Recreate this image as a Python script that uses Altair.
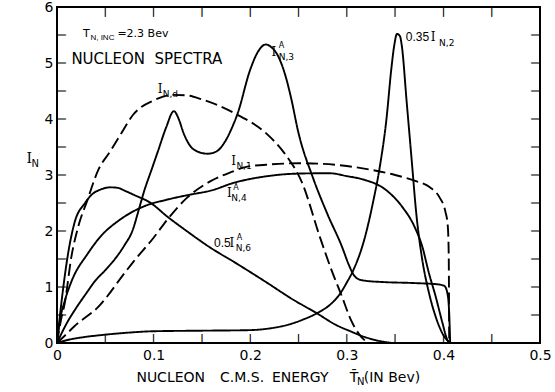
import altair as alt
import pandas as pd

# ---- curve data ----
IND_X = [0, 0.004, 0.008, 0.015, 0.022, 0.031, 0.043, 0.055, 0.065, 0.079, 0.1, 0.12, 0.135, 0.15, 0.183,
         0.218, 0.235, 0.254, 0.272, 0.284, 0.295, 0.304, 0.313, 0.322]
IND_Y = [0, 0.4, 0.71, 1.55, 2.08, 2.53, 3.1, 3.42, 3.7, 4.08, 4.33, 4.43, 4.42, 4.35, 4.11,
         3.72, 3.4, 2.85, 1.9, 1.31, 0.83, 0.42, 0.15, 0]

IN3_X = [0, 0.01, 0.02, 0.03, 0.04, 0.05, 0.06, 0.07, 0.078, 0.085, 0.09, 0.098, 0.105, 0.113, 0.121,
         0.126, 0.131, 0.142, 0.156, 0.165, 0.173, 0.18, 0.187, 0.2, 0.208, 0.216, 0.222, 0.229,
         0.236, 0.242, 0.25, 0.265, 0.28, 0.295, 0.302, 0.307, 0.312, 0.32, 0.336, 0.37, 0.393,
         0.401, 0.404, 0.4058, 0.407]
IN3_Y = [0, 0.35, 0.63, 0.88, 1.12, 1.3, 1.5, 1.75, 2.0, 2.4, 2.7, 3.1, 3.45, 3.85, 4.14,
         4.0, 3.75, 3.45, 3.38, 3.42, 3.57, 3.8, 4.1, 4.88, 5.2, 5.33, 5.28, 5.12,
         4.8, 4.4, 3.75, 2.95, 2.3, 1.72, 1.4, 1.22, 1.14, 1.11, 1.09, 1.07, 1.05,
         1.02, 0.9, 0.6, 0]

IN2_X = [0, 0.01, 0.03, 0.045, 0.07, 0.1, 0.15, 0.2, 0.22, 0.24, 0.255, 0.27, 0.285, 0.293, 0.3,
         0.307, 0.318, 0.327, 0.334, 0.341, 0.346, 0.349, 0.352, 0.355, 0.357, 0.362, 0.367,
         0.372, 0.378, 0.385, 0.392, 0.4, 0.407]
IN2_Y = [0, 0.05, 0.11, 0.14, 0.18, 0.21, 0.22, 0.23, 0.26, 0.33, 0.42, 0.54, 0.72, 0.88, 1.08,
         1.31, 1.84, 2.5, 3.13, 3.99, 4.88, 5.3, 5.52, 5.48, 5.3, 4.3, 3.3,
         2.3, 1.5, 0.9, 0.47, 0.14, 0]

IN4_X = [0, 0.003, 0.008, 0.015, 0.032, 0.045, 0.065, 0.09, 0.114, 0.138, 0.159, 0.183, 0.218,
         0.242, 0.268, 0.283, 0.3, 0.317, 0.34, 0.357, 0.37, 0.378, 0.385, 0.392, 0.399, 0.404, 0.407]
IN4_Y = [0, 0.4, 0.75, 1.1, 1.6, 1.9, 2.2, 2.44, 2.56, 2.65, 2.72, 2.86, 2.98,
         3.02, 3.03, 3.03, 2.98, 2.92, 2.74, 2.44, 2.08, 1.73, 1.25, 0.83, 0.36, 0.06, 0]

IN1_X = [0, 0.008, 0.018, 0.043, 0.07, 0.079, 0.1, 0.114, 0.135, 0.159, 0.18, 0.197, 0.222, 0.25,
         0.274, 0.3, 0.326, 0.35, 0.37, 0.386, 0.396, 0.402, 0.4045, 0.4055, 0.406]
IN1_Y = [0, 0.13, 0.3, 0.65, 1.25, 1.45, 1.88, 2.2, 2.6, 2.89, 3.05, 3.15, 3.19, 3.21,
         3.2, 3.16, 3.09, 3.0, 2.9, 2.78, 2.6, 2.35, 2.1, 1.6, 0]

IN6_X = [0, 0.0045, 0.0115, 0.018, 0.029, 0.036, 0.045, 0.055, 0.063, 0.07, 0.079, 0.097, 0.114,
         0.135, 0.159, 0.183, 0.218, 0.242, 0.27, 0.288, 0.305, 0.318, 0.33, 0.347]
IN6_Y = [0, 0.71, 1.6, 2.14, 2.5, 2.65, 2.74, 2.78, 2.77, 2.72, 2.65, 2.5, 2.26,
         1.99, 1.7, 1.45, 1.07, 0.8, 0.52, 0.33, 0.2, 0.11, 0.05, 0]

SERIES = [("I_N,d", "dashed", IND_X, IND_Y),
          ("I_N,3^A", "solid", IN3_X, IN3_Y),
          ("0.35 I_N,2", "solid", IN2_X, IN2_Y),
          ("I_N,4^A", "solid", IN4_X, IN4_Y),
          ("I_N,1", "dashed", IN1_X, IN1_Y),
          ("0.5 I_N,6^A", "solid", IN6_X, IN6_Y)]

# ---- axis values ----
X_LABELS = [0, 0.1, 0.2, 0.3, 0.4, 0.5]
Y_LABELS = [0, 1, 2, 3, 4, 5, 6]
X_TICKS = [0.05, 0.1, 0.15, 0.2, 0.25, 0.3, 0.35, 0.4, 0.45]
Y_TICKS = [0.5, 1, 1.5, 2, 2.5, 3, 3.5, 4, 4.5, 5, 5.5]
X_MIN, X_MAX, Y_MIN, Y_MAX = 0, 0.5, 0, 6

# ---- annotation texts (anchor in data units) ----
MAIN_SANS = [(0.0269, 5.46, "T"), (0.0625, 5.46, "=2.3 Bev")]
TITLE_TXT = [(0.0149, 4.99, "NUCLEON\u00a0\u00a0SPECTRA")]
NUM_TXT = [(0.3610, 5.39, "0.35"), (0.1625, 1.72, "0.5")]
I_TXT = [(0.1042, 4.46, "I"), (0.222, 5.13, "I"), (0.3870, 5.39, "I"), (0.1805, 3.18, "I"),
         (0.1760, 2.60, "I"), (0.1787, 1.72, "I")]
SUB_TXT = [(0.1094, 4.40, "N,d"), (0.2295, 5.06, "N,3"),
           (0.3955, 5.30, "N,2"), (0.1857, 3.11, "N,1"), (0.1805, 2.54, "N,4"), (0.1850, 1.64, "N,6")]
SUB_SMALL = [(0.0346, 5.41, "N,\u00a0INC")]
SUP_TXT = [(0.2295, 5.26, "A"), (0.1825, 2.73, "A"), (0.1860, 1.84, "A")]
XTITLE_TXT = [(0.0822, -0.70, "NUCLEON"), (0.1688, -0.70, "C.M.S."), (0.2225, -0.70, "ENERGY"),
              (0.3030, -0.70, "T\u0304"), (0.3175, -0.70, "(IN\u00a0Bev)")]
XTITLE_SUB = [(0.3105, -0.75, "N")]
YTITLE_I = [(-0.0317, 3.21, "I")]
YTITLE_SUB = [(-0.0265, 3.15, "N")]

rows = []
for name, style, xs, ys in SERIES:
    for i, (xv, yv) in enumerate(zip(xs, ys)):
        rows.append({"series": name, "style": style, "idx": i, "x": xv, "y": yv})
curves = pd.DataFrame(rows)

XS = alt.Scale(domain=[X_MIN, X_MAX], nice=False, zero=False)
YS = alt.Scale(domain=[Y_MIN, Y_MAX], nice=False, zero=False)
XA = alt.Axis(values=X_LABELS, format="~g", title=None, domain=False, ticks=False, grid=False,
              labelFont="DejaVu Sans", labelFontSize=14, labelPadding=5, labelColor="black",
              labelFlush=False)
YA = alt.Axis(values=Y_LABELS, format="~g", title=None, domain=False, ticks=False, grid=False,
              labelFont="DejaVu Sans", labelFontSize=14, labelPadding=4, labelColor="black",
              labelFlush=False)


def X():
    return alt.X("x:Q", scale=XS, axis=XA)


def Y():
    return alt.Y("y:Q", scale=YS, axis=YA)


lines = alt.Chart(curves).mark_line(color="black", strokeWidth=1.9, interpolate="monotone").encode(
    x=X(), y=Y(), detail="series:N", order=alt.Order("idx:Q"),
    strokeDash=alt.StrokeDash("style:N", scale=alt.Scale(domain=["solid", "dashed"],
                                                         range=[[1, 0], [12, 5]]), legend=None))

TICK_FS = 9.5  # glyph size of the inward frame ticks


def tick_glyphs(xs, ys, baseline, angle):
    df = pd.DataFrame({"x": xs, "y": ys})
    return alt.Chart(df).mark_text(text="|", font="DejaVu Sans", fontSize=TICK_FS, fontWeight="bold",
                                   align="center", baseline=baseline, angle=angle,
                                   color="black").encode(x=X(), y=Y())


tick_layers = [
    tick_glyphs(X_TICKS, [Y_MIN] * len(X_TICKS), "bottom", 0),     # bottom edge, pointing up
    tick_glyphs(X_TICKS, [Y_MAX] * len(X_TICKS), "top", 0),        # top edge, pointing down
    tick_glyphs([X_MIN] * len(Y_TICKS), Y_TICKS, "bottom", 90),    # left edge, pointing right
    tick_glyphs([X_MAX] * len(Y_TICKS), Y_TICKS, "bottom", 270),   # right edge, pointing left
]


def text_layer(items, font, size, weight="normal"):
    df = pd.DataFrame(items, columns=["x", "y", "text"])
    return alt.Chart(df).mark_text(align="left", baseline="alphabetic", font=font, fontSize=size,
                                   fontWeight=weight, color="black").encode(
        x=X(), y=Y(), text="text:N")


chart = alt.layer(
    lines, *tick_layers,
    text_layer(MAIN_SANS, "DejaVu Sans", 11),
    text_layer(TITLE_TXT, "DejaVu Sans", 15),
    text_layer(NUM_TXT, "Liberation Sans", 12),
    text_layer(I_TXT, "DejaVu Serif", 12),
    text_layer(SUB_TXT, "DejaVu Sans", 9),
    text_layer(SUB_SMALL, "Liberation Sans", 8),
    text_layer(SUP_TXT, "DejaVu Sans", 8),
    text_layer(XTITLE_TXT, "DejaVu Sans", 14),
    text_layer(XTITLE_SUB, "DejaVu Sans", 10),
    text_layer(YTITLE_I, "DejaVu Serif", 14),
    text_layer(YTITLE_SUB, "DejaVu Sans", 10),
).properties(
    width=483, height=336,
    autosize=alt.AutoSizeParams(type="none"),
    padding={"left": 57, "top": 7, "right": 15, "bottom": 49},
    background="white",
).configure_view(stroke="black", strokeWidth=2)

chart.save("out.html", embed_options={"renderer": "svg", "actions": False})
